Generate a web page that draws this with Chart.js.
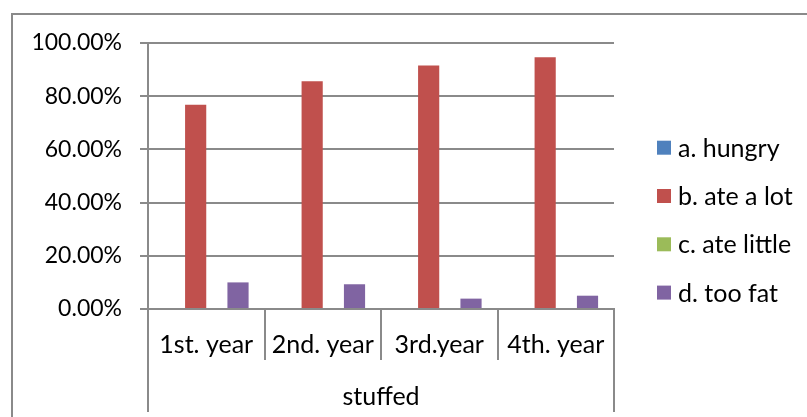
<!DOCTYPE html>
<html>
<head>
<meta charset="utf-8">
<script src="https://cdn.jsdelivr.net/npm/chart.js@4/dist/chart.umd.min.js"></script>
<style>
  html, body { margin: 0; padding: 0; background: #fff; }
  #wrap { width: 807px; height: 417px; }
</style>
</head>
<body>
<div id="wrap"><canvas id="c" width="807" height="417"></canvas></div>
<script>
// Survey answers per study year (percent of respondents)
const categories = ['1st. year', '2nd. year', '3rd.year', '4th. year'];
const groupTitle = 'stuffed';
const seriesNames = ['a. hungry', 'b. ate a lot', 'c. ate little', 'd. too fat'];
const hungry = [0, 0, 0, 0];
const ateALot = [76.8, 85.6, 91.5, 94.6];
const ateLittle = [0, 0, 0, 0];
const tooFat = [10.0, 9.3, 3.9, 5.0];
const yTicks = [0, 20, 40, 60, 80, 100];

const colors = ['#4F81BD', '#C0504D', '#9BBB59', '#8064A2'];
const lineGray = '#8a8a8a';
const FONT = 'Lato, "Open Sans", sans-serif';
const FS_Y = 23;
const FS = 25;

const seriesValues = [hungry, ateALot, ateLittle, tooFat];

// Frame, extended category axis lines and the legend
const decorations = {
  id: 'decorations',
  beforeDraw(chart) {
    const ctx = chart.ctx;
    ctx.save();
    ctx.strokeStyle = lineGray;
    ctx.lineWidth = 2;
    ctx.strokeRect(12, 14, 900, 500);
    ctx.restore();
  },
  afterDraw(chart) {
    const ctx = chart.ctx;
    const area = chart.chartArea;
    ctx.save();
    ctx.strokeStyle = lineGray;
    ctx.lineWidth = 2;
    ctx.beginPath();
    ctx.moveTo(area.left, area.bottom);
    ctx.lineTo(area.left, 412);
    ctx.moveTo(area.right, area.bottom);
    ctx.lineTo(area.right, 412);
    ctx.stroke();

    // legend
    ctx.font = FS + 'px ' + FONT;
    ctx.textBaseline = 'middle';
    ctx.textAlign = 'left';
    const x0 = 657, y0 = 147.7, step = 48.3, box = 14;
    chart.data.datasets.forEach((ds, i) => {
      const cy = y0 + i * step;
      ctx.fillStyle = ds.backgroundColor;
      ctx.fillRect(x0, cy - box / 2, box, box);
      ctx.fillStyle = '#000';
      ctx.fillText(ds.label, x0 + 21, cy + 1);
    });
    ctx.restore();
  }
};

new Chart(document.getElementById('c'), {
  type: 'bar',
  data: {
    labels: categories,
    datasets: seriesNames.map((name, i) => ({
      label: name,
      data: seriesValues[i],
      backgroundColor: colors[i],
      borderWidth: 0,
      categoryPercentage: 0.727,
      barPercentage: 1.0
    }))
  },
  options: {
    responsive: false,
    animation: false,
    devicePixelRatio: 1,
    layout: { padding: { top: 43, right: 193, bottom: 0, left: 0 } },
    plugins: {
      legend: { display: false },
      tooltip: { enabled: false }
    },
    scales: {
      x: {
        offset: true,
        grid: {
          offset: true,
          drawOnChartArea: false,
          drawTicks: true,
          tickLength: 51,
          color: lineGray,
          lineWidth: 2
        },
        border: { display: true, color: lineGray, width: 2 },
        ticks: {
          color: '#000',
          font: { family: FONT, size: FS },
          padding: -30,
          maxRotation: 0,
          autoSkip: false
        },
        title: {
          display: true,
          text: groupTitle,
          color: '#000',
          font: { family: FONT, size: FS },
          padding: { top: 0, bottom: 5 }
        },
        afterFit(scale) { scale.height = 108; }
      },
      y: {
        min: 0,
        max: 100,
        afterBuildTicks(scale) { scale.ticks = yTicks.map(v => ({ value: v })); },
        grid: {
          color: lineGray,
          lineWidth: 2,
          drawTicks: true,
          tickLength: 8
        },
        border: { display: true, color: lineGray, width: 2 },
        ticks: {
          color: '#000',
          font: { family: FONT, size: FS_Y },
          padding: 18,
          callback: v => v.toFixed(2) + '%'
        },
        afterFit(scale) { scale.width = 148; }
      }
    }
  },
  plugins: [decorations]
});
</script>
</body>
</html>
